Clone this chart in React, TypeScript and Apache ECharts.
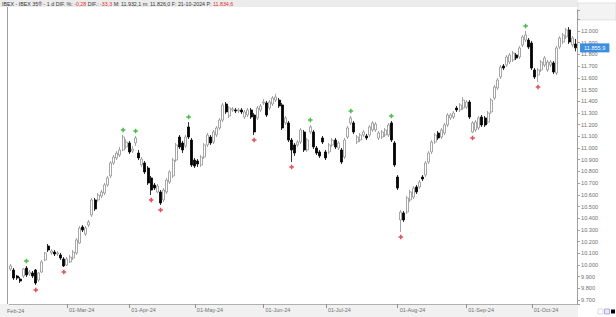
import React, { useEffect, useRef } from "react";
import * as echarts from "echarts";

// Trading calendar (BME) for the visible window
const startDate = "2024-02-06";
const endDate = "2024-10-21";
const holidays = ["2024-03-29", "2024-04-01", "2024-05-01"];

const opens = [
  9966, 9957, 9906, 9880, 9906, 9974, 9923, 9932, 9957, 9872,
  9940, 10043, 10162, 10103, 10111, 10094, 10086, 10051, 10000, 10026,
  10060, 10103, 10188, 10325, 10265, 10342, 10427, 10556, 10556, 10590,
  10615, 10684, 10761, 10872, 10915, 10940, 10983, 11009, 11043, 10974,
  11043, 10957, 10855, 10872, 10829, 10744, 10684, 10624, 10624, 10556,
  10624, 10709, 10761, 10897, 11094, 11043, 11017, 11180, 11068, 10897,
  10889, 10855, 10923, 11026, 11094, 11051, 11111, 11171, 11239, 11376,
  11274, 11325, 11325, 11316, 11325, 11265, 11282, 11325, 11282, 11257,
  11325, 11385, 11385, 11342, 11376, 11410, 11410, 11368, 11214, 11214,
  11068, 11026, 11026, 11051, 11137, 10983, 11137, 11137, 11000,
  10966, 11086, 10966, 10966, 11026, 11068, 11000, 10983, 10923, 11094,
  11214, 11214, 11051, 11068, 11111, 11103, 11111, 11154, 11154, 11086,
  11094, 11111, 11111, 11214, 11043, 10752, 10385, 10445, 10453, 10556,
  10581, 10667, 10667, 10752, 10769, 10880, 10966, 11051, 11128, 11094,
  11128, 11197, 11257, 11265, 11342, 11325, 11342, 11350, 11393, 11137,
  11154, 11171, 11265, 11257, 11222, 11308, 11427, 11513, 11607, 11701,
  11709, 11735, 11752, 11795, 11778, 11880, 11923, 11923, 11897, 11667,
  11624, 11667, 11709, 11667, 11709, 11727, 11641, 11863, 11906, 11949,
  12009, 11880, 11889,
];

const closes = [
  9992, 9889, 9889, 9863, 9966, 9915, 9940, 9906, 9846, 9932,
  10026, 10103, 10128, 10120, 10094, 10103, 10060, 9992, 10051, 10068,
  10111, 10214, 10316, 10299, 10316, 10368, 10556, 10479, 10598, 10624,
  10684, 10744, 10872, 10923, 10957, 10983, 11094, 11051, 10966, 10991,
  11086, 10915, 10906, 10795, 10701, 10641, 10658, 10675, 10530, 10641,
  10726, 10795, 10897, 11026, 11009, 10983, 11094, 11094, 10855, 10846,
  10863, 10923, 11026, 11111, 11043, 11137, 11171, 11239, 11368, 11308,
  11342, 11333, 11316, 11325, 11308, 11308, 11325, 11265, 11137, 11342,
  11359, 11393, 11282, 11393, 11427, 11436, 11359, 11171, 11257, 11068,
  10983, 10957, 11051, 11154, 10983, 11068, 11180, 11009, 10957,
  10932, 11051, 10915, 11026, 11068, 11009, 11043, 10880, 11068, 11171,
  11257, 11137, 11094, 11111, 11137, 11086, 11180, 11214, 11205, 11128,
  11137, 11154, 11197, 11068, 10855, 10658, 10453, 10385, 10573, 10624,
  10658, 10624, 10709, 10735, 10872, 10957, 11051, 11111, 11086, 11154,
  11197, 11282, 11282, 11299, 11325, 11368, 11410, 11393, 11265, 11214,
  11222, 11257, 11197, 11197, 11299, 11410, 11521, 11581, 11692, 11684,
  11778, 11795, 11812, 11769, 11855, 11949, 11966, 11863, 11684, 11607,
  11667, 11735, 11769, 11735, 11735, 11650, 11855, 11940, 11966, 12009,
  11906, 11940, 11855.9,
];

const lows = [
  9949, 9872, 9872, 9846, 9889, 9898, 9906, 9889, 9829, 9855,
  9932, 10034, 10111, 10086, 10077, 10077, 10043, 9983, 9992, 10017,
  10043, 10086, 10180, 10282, 10248, 10325, 10410, 10462, 10539, 10573,
  10598, 10667, 10744, 10855, 10897, 10923, 10974, 10991, 10949, 10957,
  11017, 10897, 10838, 10778, 10684, 10598, 10641, 10615, 10513, 10539,
  10607, 10692, 10744, 10880, 10991, 10957, 11000, 11077, 10838, 10829,
  10838, 10838, 10906, 11009, 11026, 11034, 11094, 11154, 11222, 11291,
  11257, 11308, 11299, 11299, 11291, 11248, 11265, 11248, 11111, 11239,
  11308, 11368, 11265, 11325, 11359, 11393, 11342, 11154, 11197, 11051,
  10880, 10932, 11009, 11034, 10966, 10966, 11120, 10991, 10940,
  10915, 11034, 10897, 10949, 11009, 10991, 10983, 10863, 10906, 11077,
  11197, 11120, 11034, 11051, 11094, 11068, 11094, 11137, 11137, 11068,
  11077, 11094, 11094, 11051, 10838, 10641, 10282, 10368, 10436, 10539,
  10564, 10607, 10650, 10718, 10752, 10863, 10949, 11034, 11068, 11077,
  11111, 11180, 11239, 11248, 11308, 11308, 11325, 11333, 11248, 11128,
  11137, 11154, 11180, 11180, 11205, 11291, 11410, 11496, 11590, 11667,
  11692, 11718, 11735, 11752, 11761, 11863, 11906, 11846, 11667, 11590,
  11564, 11650, 11692, 11650, 11692, 11633, 11624, 11846, 11889, 11932,
  11889, 11863, 11826,
];

const highs = [
  10009, 9974, 9915, 9898, 9974, 9992, 9957, 9949, 9966, 9940,
  10043, 10111, 10180, 10137, 10128, 10120, 10103, 10068, 10068, 10086,
  10128, 10231, 10333, 10342, 10333, 10385, 10573, 10573, 10615, 10641,
  10701, 10761, 10889, 10940, 10974, 11009, 11111, 11077, 11060, 11017,
  11103, 10983, 10923, 10889, 10846, 10761, 10701, 10692, 10641, 10658,
  10744, 10812, 10915, 11043, 11111, 11060, 11111, 11222, 11086, 10915,
  10906, 10940, 11043, 11128, 11111, 11154, 11188, 11257, 11385, 11393,
  11359, 11350, 11342, 11342, 11342, 11325, 11342, 11342, 11299, 11359,
  11376, 11419, 11402, 11410, 11444, 11462, 11427, 11385, 11274, 11231,
  11086, 11043, 11068, 11171, 11154, 11086, 11197, 11154, 11017,
  10983, 11103, 10983, 11043, 11086, 11086, 11060, 11000, 11086, 11188,
  11274, 11231, 11111, 11128, 11154, 11120, 11197, 11231, 11222, 11145,
  11154, 11171, 11214, 11231, 11060, 10769, 10470, 10462, 10590, 10641,
  10675, 10684, 10726, 10769, 10889, 10974, 11068, 11128, 11145, 11171,
  11214, 11299, 11299, 11316, 11359, 11385, 11436, 11410, 11410, 11231,
  11239, 11274, 11282, 11274, 11316, 11427, 11539, 11598, 11709, 11718,
  11795, 11812, 11829, 11812, 11872, 11966, 12000, 11940, 11915, 11684,
  11684, 11752, 11786, 11752, 11752, 11744, 11872, 11957, 11983, 12026,
  12034, 11957, 11932,
];

// Fractal markers (candle indices)
const fractalHighIdx = [5, 36, 40, 57, 96, 109, 122, 165];
const fractalLowIdx = [8, 17, 45, 48, 78, 90, 125, 148, 169];

const yTicksMin = 9700;
const yTicksMax = 12000;
const lastPriceLabel = "11.855,9";
const monthNames = ["Jan", "Feb", "Mar", "Apr", "May", "Jun", "Jul", "Aug", "Sep", "Oct", "Nov", "Dec"];

function tradingDays(start: string, end: string): string[] {
  const out: string[] = [];
  const d = new Date(start + "T00:00:00Z");
  const e = new Date(end + "T00:00:00Z");
  while (d.getTime() <= e.getTime()) {
    const iso = d.toISOString().slice(0, 10);
    const wd = d.getUTCDay();
    if (wd !== 0 && wd !== 6 && holidays.indexOf(iso) < 0) out.push(iso);
    d.setUTCDate(d.getUTCDate() + 1);
  }
  return out;
}

const dates = tradingDays(startDate, endDate);

function fmtThousands(v: number): string {
  return String(Math.round(v)).replace(/\B(?=(\d{3})+(?!\d))/g, ".");
}

export default function App() {
  const ref = useRef<HTMLDivElement>(null);
  useEffect(() => {
    if (!ref.current) return;
    const chart = echarts.init(ref.current, undefined, { renderer: "svg" });
    const font = "Liberation Sans, Arial, sans-serif";
    const isMonthStart = (index: number) =>
      index > 0 && dates[index].slice(5, 7) !== dates[index - 1].slice(5, 7);

    const ohlc = dates.map((_, i) => [opens[i], closes[i], lows[i], highs[i]]);
    const highMarks = fractalHighIdx.map((i) => [i, highs[i]]);
    const lowMarks = fractalLowIdx.map((i) => [i, lows[i]]);
    const plus = "path://M1,0H2V1H3V2H2V3H1V2H0V1H1Z";

    chart.setOption({
      animation: false,
      backgroundColor: "#ffffff",
      textStyle: { fontFamily: font },
      grid: { left: 9.24, top: 10, width: 567.8, height: 294 },
      xAxis: {
        type: "category",
        data: dates,
        boundaryGap: true,
        axisLine: { show: true, lineStyle: { color: "#b0b0b0", width: 1 } },
        axisTick: {
          show: true,
          alignWithLabel: true,
          interval: (index: number) => isMonthStart(index),
          length: 4,
          lineStyle: { color: "#909090" },
        },
        axisLabel: {
          interval: (index: number) => isMonthStart(index),
          formatter: (v: string) => "01-" + monthNames[parseInt(v.slice(5, 7), 10) - 1] + "-" + v.slice(2, 4),
          align: "left",
          padding: [0, 0, 0, 2],
          fontSize: 5.5,
          color: "#707070",
          margin: 3,
          fontFamily: font,
        },
        splitLine: { show: false },
      },
      yAxis: {
        type: "value",
        position: "right",
        min: 9666.7,
        max: 12179.5,
        splitNumber: 25,
        minInterval: 100,
        maxInterval: 100,
        axisLine: { show: true, lineStyle: { color: "#a0a0a0", width: 1 } },
        axisTick: { show: true, length: 3, lineStyle: { color: "#a0a0a0" } },
        axisLabel: {
          fontSize: 5.6,
          color: "#707070",
          margin: 4,
          fontFamily: font,
          formatter: (v: number) => {
            const r = Math.round(v);
            if (Math.abs(v - r) > 0.01 || r % 100 !== 0 || r < yTicksMin || r > yTicksMax) return "";
            return fmtThousands(r);
          },
        },
        splitLine: { show: false },
      },
      series: [
        {
          type: "candlestick",
          data: ohlc,
          barWidth: 2.5,
          itemStyle: {
            color: "#ffffff",
            color0: "#000000",
            borderColor: "#909090",
            borderColor0: "#000000",
            borderWidth: 0.8,
          },
          markLine: {
            silent: true,
            symbol: ["none", "none"],
            lineStyle: { width: 0, color: "rgba(0,0,0,0)" },
            data: [{ yAxis: closes[closes.length - 1] }],
            label: {
              show: true,
              position: "end",
              distance: 3,
              formatter: lastPriceLabel,
              backgroundColor: "#3b8ee0",
              color: "#ffffff",
              fontSize: 5.6,
              padding: [1.5, 4, 1.5, 4],
              fontFamily: font,
            },
          },
        },
        {
          type: "scatter",
          data: highMarks,
          symbol: plus,
          symbolSize: 4.6,
          symbolOffset: [0, -5],
          itemStyle: { color: "#22aa22" },
          silent: true,
        },
        {
          type: "scatter",
          data: lowMarks,
          symbol: plus,
          symbolSize: 4.6,
          symbolOffset: [0, 5],
          itemStyle: { color: "#dd2233" },
          silent: true,
        },
      ],
      graphic: [
        { type: "rect", z: -10, shape: { x: 0, y: 304, width: 578, height: 13 }, style: { fill: "#f1f1f1" } },
        { type: "rect", z: -10, shape: { x: 0, y: 0, width: 578, height: 7 }, style: { fill: "#ececec" } },
        { type: "rect", z: -10, shape: { x: 578, y: 3, width: 38, height: 17 }, style: { fill: "#f3f3f3", stroke: "#d4d4d4", lineWidth: 0.6 } },
        { type: "line", shape: { x1: 7.5, y1: 7, x2: 7.5, y2: 304 }, style: { stroke: "#a0a0a0", lineWidth: 1 } },
        {
          type: "text",
          x: 7,
          y: 311,
          style: { text: "Feb-24", fontSize: 5.5, fill: "#707070", fontFamily: font, verticalAlign: "middle" },
        },
        {
          type: "text",
          x: 2,
          y: 3.8,
          style: {
            text: "{a|IBEX - IBEX 35® - 1 d DIF. %: }{r|-0,28}{a| DIF.: }{r|-33,3}{a| M: 11.932,1 m: 11.826,0 F: 21-10-2024 P: }{r|11.834,6}",
            verticalAlign: "middle",
            fontFamily: font,
            fontSize: 5.3,
            rich: {
              a: { fill: "#333333", fontSize: 5.3, fontFamily: font },
              r: { fill: "#e03030", fontSize: 5.3, fontFamily: font },
            },
          },
        },
        { type: "rect", shape: { x: 598, y: 309, width: 5, height: 5 }, style: { fill: "#ffffff", stroke: "#c8c8c8", lineWidth: 0.6 } },
        { type: "rect", shape: { x: 604.5, y: 309, width: 5, height: 5 }, style: { fill: "#e8e8f8", stroke: "#8080d0", lineWidth: 0.6 } },
        { type: "rect", shape: { x: 611, y: 309.5, width: 4, height: 4 }, style: { fill: "#000000" } },
      ],
    });
    return () => chart.dispose();
  }, []);
  return (
    <div
      ref={ref}
      style={{ position: "fixed", left: 0, top: 0, width: 616, height: 317, background: "#fff" }}
    />
  );
}
